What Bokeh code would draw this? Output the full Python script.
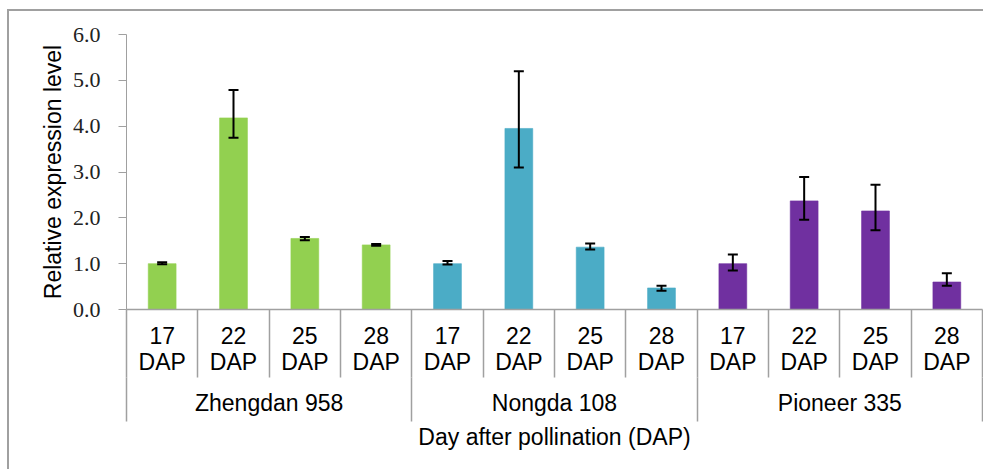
import numpy as np
from bokeh.plotting import figure
from bokeh.models import (ColumnDataSource, Range1d, LinearAxis, FixedTicker,
                          NumeralTickFormatter, Whisker, TeeHead)
from bokeh.embed import file_html
from bokeh.resources import INLINE

# ---- data ----
groups = ["Zhengdan 958", "Nongda 108", "Pioneer 335"]
stages = ["17\nDAP", "22\nDAP", "25\nDAP", "28\nDAP"]
group_colors = ["#92D050", "#4BACC6", "#7030A0"]

zhengdan_mean = [1.00, 4.18, 1.55, 1.41]
zhengdan_err_plus = [0.03, 0.61, 0.03, 0.02]
zhengdan_err_minus = [0.01, 0.43, 0.04, 0.02]
nongda_mean = [1.00, 3.95, 1.36, 0.47]
nongda_err_plus = [0.06, 1.25, 0.08, 0.05]
nongda_err_minus = [0.02, 0.85, 0.05, 0.06]
pioneer_mean = [1.00, 2.37, 2.15, 0.60]
pioneer_err_plus = [0.20, 0.52, 0.57, 0.19]
pioneer_err_minus = [0.15, 0.41, 0.42, 0.08]

y_ticks = [0, 1, 2, 3, 4, 5, 6]

means = [zhengdan_mean, nongda_mean, pioneer_mean]
plus = [zhengdan_err_plus, nongda_err_plus, pioneer_err_plus]
minus = [zhengdan_err_minus, nongda_err_minus, pioneer_err_minus]

n_sub = len(stages)
n = len(groups) * n_sub
x = np.arange(n)
tops = np.concatenate(means)
up = tops + np.concatenate(plus)
lo = tops - np.concatenate(minus)
colors = [c for c in group_colors for _ in stages]
labels = {int(i): stages[i % n_sub] for i in x}

src = ColumnDataSource(dict(x=x, top=tops, upper=up, lower=lo, color=colors))

GRAY = "#a0a0a0"
SANS = "Liberation Sans"
FS = "23px"

p = figure(width=976, height=460, output_backend="svg", toolbar_location=None,
           x_axis_type=None, x_range=Range1d(-0.5, n - 0.5),
           y_range=Range1d(0, 6),
           min_border_left=117, min_border_right=3, min_border_top=23,
           min_border_bottom=162)
p.outline_line_color = None
p.grid.grid_line_color = None
p.background_fill_color = "white"
p.border_fill_color = "white"
p.styles = {"border-top": "2px solid #a0a0a0", "border-left": "2px solid #a0a0a0",
            "margin-left": "7px", "margin-top": "9px"}

p.vbar(x="x", top="top", width=0.39, fill_color="color", line_color="color",
       line_alpha=0.6, source=src)

wh = Whisker(base="x", upper="upper", lower="lower", source=src,
             line_color="black", line_width=2, level="overlay",
             upper_head=TeeHead(size=10, line_width=2, line_color="black"),
             lower_head=TeeHead(size=10, line_width=2, line_color="black"))
p.add_layout(wh)

# y axis
ya = p.yaxis[0]
ya.ticker = FixedTicker(ticks=y_ticks)
ya.formatter = NumeralTickFormatter(format="0.0")
ya.major_label_text_font = "Liberation Serif"
ya.major_label_text_font_size = "22px"
ya.major_label_text_color = "#222222"
ya.major_tick_out = 8
ya.major_tick_in = 0
ya.minor_tick_line_color = None
ya.axis_line_color = GRAY
ya.major_tick_line_color = GRAY
ya.major_label_standoff = 18
ya.axis_label = "Relative expression level"
ya.axis_label_text_font = SANS
ya.axis_label_text_font_size = FS
ya.axis_label_text_font_style = "normal"
ya.axis_label_text_color = "black"
ya.axis_label_standoff = 4

# x axis: sub categories
bounds = list(np.arange(n + 1) - 0.5)
ax1 = LinearAxis(ticker=FixedTicker(ticks=list(x.astype(float)), minor_ticks=bounds))
ax1.major_label_overrides = labels
ax1.major_tick_out = 0
ax1.major_tick_in = 0
ax1.major_tick_line_color = None
ax1.minor_tick_out = 0
ax1.minor_tick_in = -68
ax1.minor_tick_line_color = GRAY
ax1.minor_tick_line_width = 1.5
ax1.axis_line_color = GRAY
ax1.axis_line_width = 1.5
ax1.major_label_text_font = SANS
ax1.major_label_text_font_size = FS
ax1.major_label_text_color = "black"
ax1.major_label_text_line_height = 1.0
ax1.major_label_standoff = 13
p.add_layout(ax1, "below")

# x axis: groups
group_centers = [float(np.mean(x[i * n_sub:(i + 1) * n_sub])) for i in range(len(groups))]
group_bounds = [i * n_sub - 0.5 for i in range(len(groups) + 1)]
ax2 = LinearAxis(ticker=FixedTicker(ticks=group_centers, minor_ticks=group_bounds))
ax2.major_label_overrides = {c: g for c, g in zip(group_centers, groups)}
ax2.major_tick_out = 0
ax2.major_tick_in = 0
ax2.major_tick_line_color = None
ax2.minor_tick_out = 0
ax2.minor_tick_in = -44
ax2.minor_tick_line_color = GRAY
ax2.minor_tick_line_width = 1.5
ax2.axis_line_color = None
ax2.major_label_text_font = SANS
ax2.major_label_text_font_size = FS
ax2.major_label_text_color = "black"
ax2.major_label_standoff = 12
ax2.axis_label = "Day after pollination (DAP)"
ax2.axis_label_text_font = SANS
ax2.axis_label_text_font_size = FS
ax2.axis_label_text_font_style = "normal"
ax2.axis_label_text_color = "black"
ax2.axis_label_standoff = 5
p.add_layout(ax2, "below")

open("out.html", "w").write(file_html(p, INLINE))
